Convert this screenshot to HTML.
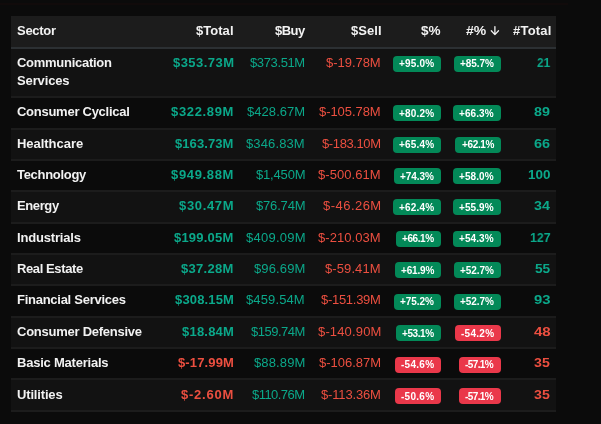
<!DOCTYPE html><html><head><meta charset='utf-8'><style>
*{margin:0;padding:0;box-sizing:border-box}
html,body{width:601px;height:424px;overflow:hidden;background:#0b0b0b;font-family:"Liberation Sans",sans-serif}
.topline{position:absolute;left:0;top:3px;width:568px;height:2px;background:#110b0b}
.row{position:absolute;left:11px;width:545px}
.hd{background:#1c1c1c;border-bottom:2px solid #2c3033}
.odd{background:#121212}
.ln{position:absolute;left:11px;width:545px;height:2px;background:#1c1c1c}
.c{position:absolute;white-space:nowrap;line-height:18px;will-change:transform}
.h{font-weight:bold;font-size:13px;color:#f2f2f2}
.sec{font-weight:bold;font-size:13px;color:#f2f2f2}
.num{font-size:13px}
.numb{font-weight:bold;font-size:13px}
.g{color:#0ba88a}
.r{color:#ec4f40}
.badge{position:absolute;height:16px;border-radius:4px;color:#fff;font-weight:bold;font-size:10px;line-height:16px;text-align:center;white-space:nowrap}
.badge span{position:absolute;top:0.5px;will-change:transform}
.bg{background:#038958}
.br{background:#ea384a}
svg{position:absolute}
</style></head><body>
<div class='topline'></div>
<div class='row hd' style='top:16px;height:33px'></div>
<div id='h0' class='c h' style='left:16.62px;top:21.55px;letter-spacing:-0.275px;'>Sector</div>
<div id='h1' class='c h' style='left:196.25px;top:21.55px;letter-spacing:0.035px;'>$Total</div>
<div id='h2' class='c h' style='left:274.55px;top:21.55px;letter-spacing:-0.533px;'>$Buy</div>
<div id='h3' class='c h' style='left:350.75px;top:21.55px;letter-spacing:0.037px;'>$Sell</div>
<div id='h4' class='c h' style='left:420.64px;top:21.55px;letter-spacing:0.0px;transform:scaleX(1.0411);transform-origin:0 0;'>$%</div>
<div id='h5' class='c h' style='left:466.33px;top:21.55px;letter-spacing:0.0px;transform:scaleX(1.074);transform-origin:0 0;'>#%</div>
<div id='h6' class='c h' style='left:512.75px;top:21.55px;letter-spacing:0.215px;'>#Total</div>
<svg style='left:490px;top:25px' width='10' height='11' viewBox='0 0 10 11'><path d='M4.9 1.6V9.6M1.3 5.8L4.9 9.6L8.5 5.8' fill='none' stroke='#f2f2f2' stroke-width='1.3' stroke-linecap='round' stroke-linejoin='round'/></svg>
<div class='row odd' style='top:49px;height:49px'></div>
<div class='ln' style='top:96px'></div>
<div id='s0' class='c sec' style='left:16.9px;top:53.75px;letter-spacing:-0.273px;'>Communication</div>
<div id='s0b' class='c sec' style='left:16.9px;top:71.75px;letter-spacing:-0.132px;'>Services</div>
<div id='t0' class='c numb g' style='left:172.65px;top:53.75px;letter-spacing:0.45px;'>$353.73M</div>
<div id='b0' class='c num g' style='left:249.97px;top:53.75px;letter-spacing:-0.375px;'>$373.51M</div>
<div id='e0' class='c num r' style='left:326.38px;top:53.75px;letter-spacing:-0.036px;'>$-19.78M</div>
<div id='n0' class='c numb g' style='left:536.85px;top:53.75px;letter-spacing:0.0px;transform:scaleX(0.9101);transform-origin:0 0;'>21</div>
<div class='badge bg' style='left:392.9px;top:55.6px;width:48.0px'><span id='p0' style='left:6.23px;letter-spacing:0.175px'>+95.0%</span></div>
<div class='badge bg' style='left:454px;top:55.6px;width:46.7px'><span id='q0' style='left:6.23px;letter-spacing:-0.085px'>+85.7%</span></div>
<div class='ln' style='top:128px'></div>
<div id='s1' class='c sec' style='left:16.9px;top:102.7px;letter-spacing:-0.264px;'>Consumer Cyclical</div>
<div id='t1' class='c numb g' style='left:171.25px;top:102.7px;letter-spacing:0.65px;'>$322.89M</div>
<div id='b1' class='c num g' style='left:246.97px;top:102.7px;letter-spacing:0.054px;'>$428.67M</div>
<div id='e1' class='c num r' style='left:319.38px;top:102.7px;letter-spacing:-0.062px;'>$-105.78M</div>
<div id='n1' class='c numb g' style='left:534.29px;top:102.7px;letter-spacing:0.0px;transform:scaleX(1.1009);transform-origin:0 0;'>89</div>
<div class='badge bg' style='left:392.9px;top:105.2px;width:48.0px'><span id='p1' style='left:6.23px;letter-spacing:0.175px'>+80.2%</span></div>
<div class='badge bg' style='left:453.1px;top:105.2px;width:47.6px'><span id='q1' style='left:6.22px;letter-spacing:0.095px'>+66.3%</span></div>
<div class='row odd' style='top:130px;height:31px'></div>
<div class='ln' style='top:159px'></div>
<div id='s2' class='c sec' style='left:16.9px;top:134.65px;letter-spacing:-0.036px;'>Healthcare</div>
<div id='t2' class='c numb g' style='left:175.25px;top:134.65px;letter-spacing:0.079px;'>$163.73M</div>
<div id='b2' class='c num g' style='left:246.47px;top:134.65px;letter-spacing:0.125px;'>$346.83M</div>
<div id='e2' class='c num r' style='left:321.98px;top:134.65px;letter-spacing:-0.388px;'>$-183.10M</div>
<div id='n2' class='c numb g' style='left:534.14px;top:134.65px;letter-spacing:0.0px;transform:scaleX(1.1111);transform-origin:0 0;'>66</div>
<div class='badge bg' style='left:392.9px;top:136.63px;width:48.0px'><span id='p2' style='left:6.23px;letter-spacing:0.175px'>+65.4%</span></div>
<div class='badge bg' style='left:455.3px;top:136.63px;width:45.4px'><span id='q2' style='left:6.22px;letter-spacing:-0.345px'>+62.1%</span></div>
<div class='ln' style='top:190px'></div>
<div id='s3' class='c sec' style='left:16.9px;top:165.75px;letter-spacing:-0.294px;'>Technology</div>
<div id='t3' class='c numb g' style='left:171.25px;top:165.75px;letter-spacing:0.65px;'>$949.88M</div>
<div id='b3' class='c num g' style='left:255.68px;top:165.75px;letter-spacing:-0.179px;'>$1,450M</div>
<div id='e3' class='c num r' style='left:318.48px;top:165.75px;letter-spacing:0.05px;'>$-500.61M</div>
<div id='n3' class='c numb g' style='left:527.82px;top:165.75px;letter-spacing:0.0px;transform:scaleX(1.0356);transform-origin:0 0;'>100</div>
<div class='badge bg' style='left:394.2px;top:168.06px;width:46.7px'><span id='p3' style='left:6.23px;letter-spacing:-0.085px'>+74.3%</span></div>
<div class='badge bg' style='left:453.1px;top:168.06px;width:47.6px'><span id='q3' style='left:6.22px;letter-spacing:0.095px'>+58.0%</span></div>
<div class='row odd' style='top:192px;height:32px'></div>
<div class='ln' style='top:222px'></div>
<div id='s4' class='c sec' style='left:16.9px;top:196.75px;letter-spacing:-0.385px;'>Energy</div>
<div id='t4' class='c numb g' style='left:179.15px;top:196.75px;letter-spacing:0.65px;'>$30.47M</div>
<div id='b4' class='c num g' style='left:255.68px;top:196.75px;letter-spacing:-0.179px;'>$76.74M</div>
<div id='e4' class='c num r' style='left:322.88px;top:196.75px;letter-spacing:0.464px;'>$-46.26M</div>
<div id='n4' class='c numb g' style='left:533.89px;top:196.75px;letter-spacing:0.0px;transform:scaleX(1.1);transform-origin:0 0;'>34</div>
<div class='badge bg' style='left:392.9px;top:199.49px;width:48.0px'><span id='p4' style='left:6.23px;letter-spacing:0.175px'>+62.4%</span></div>
<div class='badge bg' style='left:453.1px;top:199.49px;width:47.6px'><span id='q4' style='left:6.22px;letter-spacing:0.095px'>+55.9%</span></div>
<div class='ln' style='top:253px'></div>
<div id='s5' class='c sec' style='left:16.9px;top:228.55px;letter-spacing:-0.178px;'>Industrials</div>
<div id='t5' class='c numb g' style='left:174.35px;top:228.55px;letter-spacing:0.207px;'>$199.05M</div>
<div id='b5' class='c num g' style='left:245.68px;top:228.55px;letter-spacing:0.239px;'>$409.09M</div>
<div id='e5' class='c num r' style='left:318.48px;top:228.55px;letter-spacing:0.05px;'>$-210.03M</div>
<div id='n5' class='c numb g' style='left:529.69px;top:228.55px;letter-spacing:0.0px;transform:scaleX(0.9472);transform-origin:0 0;'>127</div>
<div class='badge bg' style='left:395.9px;top:230.92px;width:45.0px'><span id='p5' style='left:6.23px;letter-spacing:-0.425px'>+66.1%</span></div>
<div class='badge bg' style='left:453.1px;top:230.92px;width:47.6px'><span id='q5' style='left:6.22px;letter-spacing:0.095px'>+54.3%</span></div>
<div class='row odd' style='top:255px;height:31px'></div>
<div class='ln' style='top:284px'></div>
<div id='s6' class='c sec' style='left:16.9px;top:259.75px;letter-spacing:-0.395px;'>Real Estate</div>
<div id='t6' class='c numb g' style='left:181.35px;top:259.75px;letter-spacing:0.283px;'>$37.28M</div>
<div id='b6' class='c num g' style='left:253.88px;top:259.75px;letter-spacing:0.121px;'>$96.69M</div>
<div id='e6' class='c num r' style='left:325.48px;top:259.75px;letter-spacing:0.093px;'>$-59.41M</div>
<div id='n6' class='c numb g' style='left:534.8px;top:259.75px;letter-spacing:0.0px;transform:scaleX(1.0545);transform-origin:0 0;'>55</div>
<div class='badge bg' style='left:394.6px;top:262.35px;width:46.3px'><span id='p6' style='left:6.22px;letter-spacing:-0.165px'>+61.9%</span></div>
<div class='badge bg' style='left:454px;top:262.35px;width:46.7px'><span id='q6' style='left:6.23px;letter-spacing:-0.085px'>+52.7%</span></div>
<div class='ln' style='top:316px'></div>
<div id='s7' class='c sec' style='left:16.9px;top:290.65px;letter-spacing:-0.265px;'>Financial Services</div>
<div id='t7' class='c numb g' style='left:174.75px;top:290.65px;letter-spacing:0.15px;'>$308.15M</div>
<div id='b7' class='c num g' style='left:246.47px;top:290.65px;letter-spacing:0.125px;'>$459.54M</div>
<div id='e7' class='c num r' style='left:321.18px;top:290.65px;letter-spacing:-0.288px;'>$-151.39M</div>
<div id='n7' class='c numb g' style='left:533.73px;top:290.65px;letter-spacing:0.0px;transform:scaleX(1.1407);transform-origin:0 0;'>93</div>
<div class='badge bg' style='left:394.2px;top:293.78px;width:46.7px'><span id='p7' style='left:6.23px;letter-spacing:-0.085px'>+75.2%</span></div>
<div class='badge bg' style='left:454px;top:293.78px;width:46.7px'><span id='q7' style='left:6.23px;letter-spacing:-0.085px'>+52.7%</span></div>
<div class='row odd' style='top:318px;height:31px'></div>
<div class='ln' style='top:347px'></div>
<div id='s8' class='c sec' style='left:16.9px;top:322.55px;letter-spacing:-0.251px;'>Consumer Defensive</div>
<div id='t8' class='c numb g' style='left:181.75px;top:322.55px;letter-spacing:0.217px;'>$18.84M</div>
<div id='b8' class='c num g' style='left:250.88px;top:322.55px;letter-spacing:-0.504px;'>$159.74M</div>
<div id='e8' class='c num r' style='left:317.68px;top:322.55px;letter-spacing:0.15px;'>$-140.90M</div>
<div id='n8' class='c numb r' style='left:533.51px;top:322.55px;letter-spacing:0.0px;transform:scaleX(1.1564);transform-origin:0 0;'>48</div>
<div class='badge bg' style='left:395.9px;top:325.21px;width:45.0px'><span id='p8' style='left:6.23px;letter-spacing:-0.425px'>+53.1%</span></div>
<div class='badge br' style='left:454.8px;top:325.21px;width:45.9px'><span id='q8' style='left:6.22px;letter-spacing:0.28px'>-54.2%</span></div>
<div class='ln' style='top:378px'></div>
<div id='s9' class='c sec' style='left:16.9px;top:353.55px;letter-spacing:-0.225px;'>Basic Materials</div>
<div id='t9' class='c numb r' style='left:177.85px;top:353.55px;letter-spacing:0.136px;'>$-17.99M</div>
<div id='b9' class='c num g' style='left:253.88px;top:353.55px;letter-spacing:0.121px;'>$88.89M</div>
<div id='e9' class='c num r' style='left:318.98px;top:353.55px;letter-spacing:-0.013px;'>$-106.87M</div>
<div id='n9' class='c numb r' style='left:534.29px;top:353.55px;letter-spacing:0.0px;transform:scaleX(1.0909);transform-origin:0 0;'>35</div>
<div class='badge br' style='left:395px;top:356.64px;width:45.9px'><span id='p9' style='left:6.23px;letter-spacing:0.28px'>-54.6%</span></div>
<div class='badge br' style='left:459.2px;top:356.64px;width:41.5px'><span id='q9' style='left:6.23px;letter-spacing:-0.6px'>-57.1%</span></div>
<div class='row odd' style='top:380px;height:32px'></div>
<div class='ln' style='top:410px'></div>
<div id='s10' class='c sec' style='left:16.9px;top:385.85px;letter-spacing:-0.166px;'>Utilities</div>
<div id='t10' class='c numb r' style='left:181.35px;top:385.85px;letter-spacing:0.763px;'>$-2.60M</div>
<div id='b10' class='c num g' style='left:252.18px;top:385.85px;letter-spacing:-0.546px;'>$110.76M</div>
<div id='e10' class='c num r' style='left:321.18px;top:385.85px;letter-spacing:-0.163px;'>$-113.36M</div>
<div id='n10' class='c numb r' style='left:534.29px;top:385.85px;letter-spacing:0.0px;transform:scaleX(1.0909);transform-origin:0 0;'>35</div>
<div class='badge br' style='left:395px;top:388.07px;width:45.9px'><span id='p10' style='left:6.23px;letter-spacing:0.28px'>-50.6%</span></div>
<div class='badge br' style='left:459.2px;top:388.07px;width:41.5px'><span id='q10' style='left:6.23px;letter-spacing:-0.6px'>-57.1%</span></div>
</body></html>
